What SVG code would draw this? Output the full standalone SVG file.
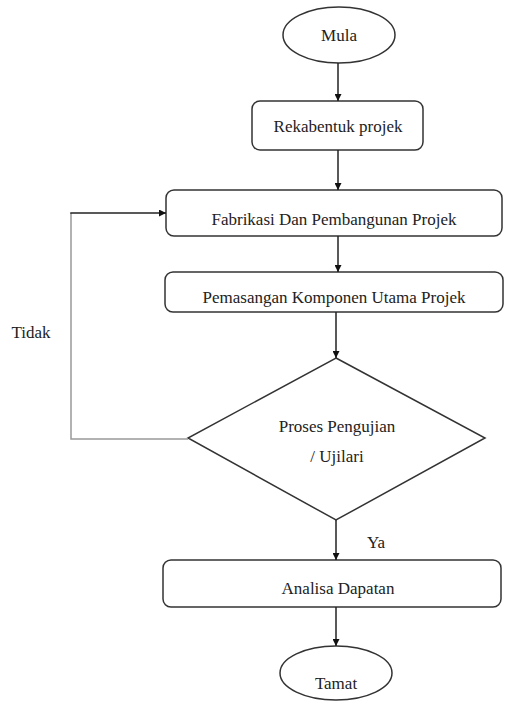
<svg xmlns="http://www.w3.org/2000/svg" width="510" height="702" viewBox="0 0 510 702">
<defs>
<marker id="ah" viewBox="0 0 10 10" refX="10" refY="5" markerWidth="7" markerHeight="7" markerUnits="userSpaceOnUse" orient="auto">
<path d="M0,0 L10,5 L0,10 z" fill="#111"/>
</marker>
<style>
.shape{fill:#fff;stroke:#333;stroke-width:1.5}
.t{font-family:"Liberation Serif","Times New Roman",serif;font-size:17px;fill:#222;text-anchor:middle}
.c{fill:none;stroke:#222;stroke-width:1.5}
.cg{fill:none;stroke:#999;stroke-width:1.5}
</style>
</defs>
<rect width="510" height="702" fill="#fff"/>
<g id="mula"><ellipse class="shape" cx="339" cy="35" rx="56" ry="28"/><text class="t" x="339" y="41">Mula</text></g>
<g id="rekabentuk"><rect class="shape" x="252" y="101" width="171" height="49" rx="8"/><text class="t" x="338" y="132">Rekabentuk projek</text></g>
<g id="fabrikasi"><rect class="shape" x="166" y="190" width="336" height="46" rx="8"/><text class="t" x="334" y="225">Fabrikasi Dan Pembangunan Projek</text></g>
<g id="pemasangan"><rect class="shape" x="165" y="272" width="338" height="40" rx="8"/><text class="t" x="334" y="303">Pemasangan Komponen Utama Projek</text></g>
<g id="proses"><polygon class="shape" points="336,358 485,438 336,520 188,438"/><text class="t" x="337" y="432">Proses Pengujian</text><text class="t" x="337" y="462">/ Ujilari</text></g>
<g id="analisa"><rect class="shape" x="163" y="560" width="338" height="47" rx="8"/><text class="t" x="338" y="594">Analisa Dapatan</text></g>
<g id="tamat"><ellipse class="shape" cx="336" cy="673" rx="56" ry="27"/><text class="t" x="336" y="689">Tamat</text></g>
<g id="connectors">
<line class="c" x1="338" y1="63" x2="338" y2="101" marker-end="url(#ah)"/>
<line class="c" x1="338" y1="150" x2="338" y2="190" marker-end="url(#ah)"/>
<line class="c" x1="338" y1="236" x2="338" y2="272" marker-end="url(#ah)"/>
<line class="c" x1="336" y1="312" x2="336" y2="358" marker-end="url(#ah)"/>
<line class="c" x1="336" y1="520" x2="336" y2="560" marker-end="url(#ah)"/>
<line class="c" x1="336" y1="607" x2="336" y2="646" marker-end="url(#ah)"/>
<polyline class="cg" points="188,439 71,439 71,213"/>
<line class="c" x1="70.25" y1="213" x2="166" y2="213" marker-end="url(#ah)"/>
<text class="t" x="31" y="338">Tidak</text>
<text class="t" x="376" y="548">Ya</text>
</g>
</svg>
